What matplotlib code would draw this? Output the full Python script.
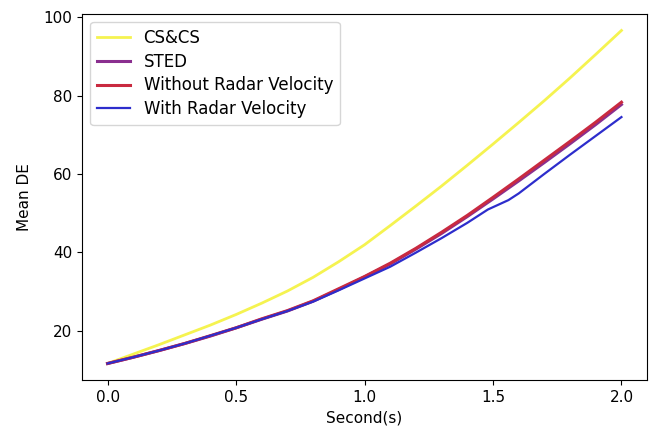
import numpy as np
import matplotlib
matplotlib.use("Agg")
import matplotlib.pyplot as plt

# time steps (s)
t = [0.0, 0.1, 0.2, 0.3, 0.4, 0.5, 0.6, 0.7, 0.8, 0.9, 1.0,
     1.1, 1.2, 1.3, 1.4, 1.5, 1.6, 1.7, 1.8, 1.9, 2.0]

cscs = [11.6, 14.0, 16.4, 18.9, 21.4, 24.1, 27.0, 30.1, 33.6, 37.6, 41.9,
        46.8, 51.8, 56.9, 62.2, 67.6, 73.1, 78.7, 84.5, 90.5, 96.6]

sted = [11.6, 13.2, 14.9, 16.7, 18.6, 20.7, 22.9, 25.0, 27.5, 30.5, 33.7,
        37.0, 40.8, 44.8, 49.1, 53.6, 58.2, 62.9, 67.7, 72.6, 77.7]

without_rv = [11.6, 13.2, 14.9, 16.7, 18.7, 20.7, 23.0, 25.1, 27.6, 30.7, 33.8,
              37.2, 41.0, 45.1, 49.4, 54.0, 58.7, 63.5, 68.3, 73.2, 78.3]

# radar velocity run has its own sampling around the kink near 1.5 s
t_rv = [0.0, 0.1, 0.2, 0.3, 0.4, 0.5, 0.6, 0.7, 0.8, 0.9, 1.0,
        1.1, 1.2, 1.3, 1.4, 1.48, 1.56, 1.6, 1.7, 1.8, 1.9, 2.0]
with_rv = [11.6, 13.2, 14.9, 16.7, 18.7, 20.7, 22.9, 25.0, 27.4, 30.3, 33.3,
           36.3, 39.9, 43.6, 47.5, 50.9, 53.3, 55.0, 60.0, 64.9, 69.7, 74.5]

plt.rcParams["font.size"] = 11

fig = plt.figure(figsize=(6.55, 4.32), dpi=100)
ax = fig.add_axes([0.125, 0.12, 0.863, 0.848])

ax.plot(t, cscs, color="#f5f350", lw=2, label="CS&CS")
ax.plot(t, sted, color="#8a2f8f", lw=2.2, label="STED")
ax.plot(t, without_rv, color="#c92a40", lw=2.2, label="Without Radar Velocity")
ax.plot(t_rv, with_rv, color="#2d2dcc", lw=1.6, label="With Radar Velocity")

ax.set_xticks(np.arange(0, 2.01, 0.5))
ax.set_xlabel("Second(s)")
ax.set_ylabel("Mean DE", labelpad=8)
ax.legend(loc="upper left", fontsize=12, labelspacing=0.35)

plt.savefig("out.png", dpi=100)
